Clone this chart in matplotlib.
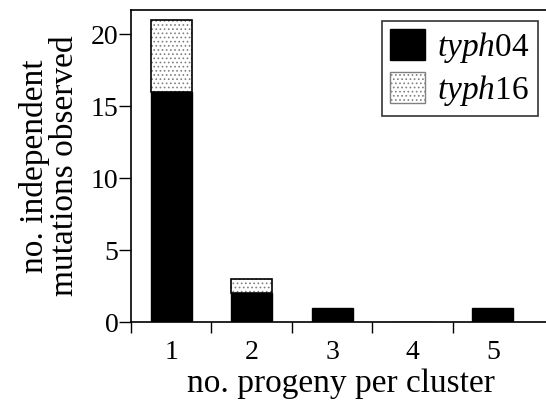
import matplotlib.pyplot as plt
from matplotlib.patches import Patch

plt.rcParams["font.family"] = ["Liberation Serif", "DejaVu Serif"]
plt.rcParams["mathtext.fontset"] = "custom"
plt.rcParams["mathtext.rm"] = "Liberation Serif"
plt.rcParams["mathtext.it"] = "Liberation Serif:italic"
plt.rcParams["hatch.linewidth"] = 0.7

# data
progeny = [1, 2, 3, 4, 5]
typh04 = [16, 2, 1, 0, 1]
typh16 = [5, 1, 0, 0, 0]

fig = plt.figure(figsize=(5.46, 4.0), dpi=100)
ax = fig.add_axes([0.24, 0.195, 0.76, 0.78])

w = 0.51
stip = "#808080"
ax.bar(progeny, typh04, width=w, color="black", edgecolor="black", linewidth=1)
# stippled part: hatch in grey, then a black outline on top
ax.bar(progeny, typh16, width=w, bottom=typh04, color="white",
       edgecolor=stip, hatch="....", linewidth=0)
for x, b, h in zip(progeny, typh04, typh16):
    if h > 0:
        ax.bar(x, h, width=w, bottom=b, fill=False, edgecolor="black", linewidth=1.2)

ax.set_xlim(0.5, 5.66)
ax.set_ylim(0, 21.7)
ax.set_yticks([0, 5, 10, 15, 20])
ax.set_xticks([0.5, 1.5, 2.5, 3.5, 4.5])
ax.set_xticklabels([])
ax.set_xticks(progeny, minor=True)
ax.set_xticklabels([str(p) for p in progeny], minor=True)
ax.tick_params(axis="x", which="minor", length=0, pad=13, labelsize=20)
ax.tick_params(axis="x", which="major", length=8, width=1)
ax.tick_params(axis="y", length=9, width=1, labelsize=20, pad=0)

ax.spines["right"].set_visible(False)
for s in ["left", "bottom", "top"]:
    ax.spines[s].set_linewidth(1.2)

ax.set_xlabel("no. progeny per cluster", fontsize=24, va="baseline")
ax.xaxis.set_label_coords(0.506, -0.225)
ax.set_ylabel("no. independent\nmutations observed", fontsize=24,
              linespacing=0.95, labelpad=8)

handles = [
    Patch(facecolor="black", edgecolor="black", label=r"$\mathit{typh}$04"),
    Patch(facecolor="white", edgecolor=stip, hatch="....",
          label=r"$\mathit{typh}$16"),
]
leg = ax.legend(handles=handles, loc="upper right", fontsize=24,
                frameon=True, fancybox=False, edgecolor="black",
                handlelength=1.05, handleheight=1.05, borderpad=0.25,
                labelspacing=0.2, handletextpad=0.35, borderaxespad=0,
                bbox_to_anchor=(0.98, 0.965))
leg.get_frame().set_linewidth(1.2)

fig.savefig("out.png", dpi=100)
